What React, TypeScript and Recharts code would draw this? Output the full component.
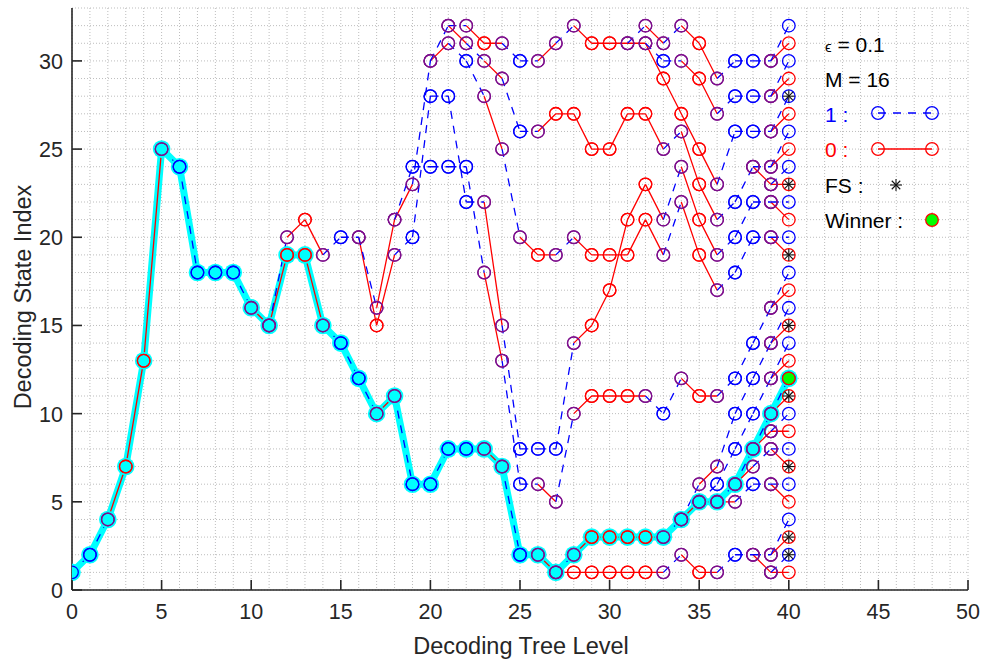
import React from 'react';
import { ComposedChart, Line, XAxis, YAxis, CartesianGrid, Legend } from 'recharts';

// surviving path of the decoder, state per tree level 0..40
const winnerPath = [1, 2, 4, 7, 13, 25, 24, 18, 18, 18, 16, 15, 19, 19, 15, 14, 12, 10, 11, 6, 6, 8, 8, 8, 7, 2, 2, 1, 2, 3, 3, 3, 3, 3, 4, 5, 5, 6, 8, 10, 12];

// tree edges, [level, state at level, state at level + 1]
const zeroEdges = [
  [2, 4, 7], [3, 7, 13], [4, 13, 25],
  [10, 16, 15], [11, 15, 19], [12, 19, 19], [12, 20, 21], [13, 19, 15], [13, 21, 19],
  [16, 20, 15], [17, 10, 11], [17, 16, 21], [17, 15, 19], [18, 21, 23],
  [20, 30, 31], [21, 32, 31], [22, 32, 31],
  [23, 31, 31], [23, 30, 29], [23, 28, 25], [23, 22, 15], [23, 18, 13], [23, 8, 7],
  [25, 20, 19],
  [26, 30, 31], [26, 26, 27], [26, 19, 19], [26, 6, 5], [26, 2, 1],
  [27, 27, 27], [27, 1, 1],
  [28, 32, 31], [28, 27, 25], [28, 20, 19], [28, 14, 15], [28, 10, 11], [28, 2, 3], [28, 1, 1],
  [29, 31, 31], [29, 25, 25], [29, 19, 19], [29, 15, 17], [29, 11, 11], [29, 3, 3], [29, 1, 1],
  [30, 31, 31], [30, 25, 27], [30, 19, 19], [30, 17, 21], [30, 11, 11], [30, 3, 3], [30, 1, 1],
  [31, 31, 31], [31, 27, 27], [31, 21, 23], [31, 19, 21], [31, 11, 11], [31, 3, 3], [31, 1, 1],
  [32, 32, 31], [32, 31, 29], [32, 27, 25], [32, 23, 21], [32, 21, 19], [32, 3, 3], [32, 1, 1],
  [33, 29, 27],
  [34, 32, 31], [34, 30, 29], [34, 27, 25], [34, 26, 23], [34, 24, 21], [34, 22, 19], [34, 12, 11], [34, 4, 5], [34, 2, 1],
  [35, 31, 29], [35, 29, 27], [35, 25, 23], [35, 23, 21], [35, 21, 19], [35, 19, 17], [35, 11, 11], [35, 6, 7], [35, 5, 5], [35, 1, 1],
  [36, 5, 5],
  [37, 6, 7],
  [38, 24, 23], [38, 8, 9], [38, 2, 1],
  [39, 30, 31], [39, 28, 29], [39, 26, 27], [39, 24, 25], [39, 23, 23], [39, 22, 21], [39, 20, 19], [39, 16, 17],
  [39, 14, 15], [39, 12, 13], [39, 10, 11], [39, 9, 9], [39, 8, 7], [39, 6, 5], [39, 2, 3], [39, 1, 1],
];

const oneEdges = [
  [0, 1, 2], [1, 2, 4], [5, 25, 24], [6, 24, 18], [7, 18, 18], [8, 18, 18], [9, 18, 16],
  [11, 15, 20], [14, 15, 14], [14, 19, 20], [15, 14, 12], [15, 20, 20], [16, 12, 10], [16, 20, 16],
  [18, 11, 6], [18, 21, 24], [18, 19, 20],
  [19, 24, 24], [19, 23, 30], [19, 20, 28], [19, 6, 6],
  [20, 30, 32], [20, 28, 28], [20, 24, 24], [20, 6, 8],
  [21, 32, 32], [21, 31, 30], [21, 28, 22], [21, 24, 24], [21, 8, 8],
  [22, 31, 30], [22, 30, 28], [22, 24, 18], [22, 22, 22], [22, 8, 8],
  [24, 31, 30], [24, 29, 26], [24, 25, 20], [24, 15, 8], [24, 13, 6], [24, 7, 2],
  [25, 30, 30], [25, 26, 26], [25, 8, 8], [25, 6, 6], [25, 2, 2],
  [26, 8, 8],
  [27, 31, 32], [27, 19, 20], [27, 8, 14], [27, 5, 10], [27, 1, 2],
  [31, 31, 32],
  [32, 31, 30], [32, 11, 10],
  [33, 31, 32], [33, 30, 30], [33, 25, 26], [33, 21, 24], [33, 19, 22], [33, 10, 12], [33, 3, 4], [33, 1, 2],
  [34, 4, 6],
  [35, 5, 6],
  [36, 29, 30], [36, 27, 28], [36, 23, 26], [36, 21, 22], [36, 19, 20], [36, 17, 18], [36, 11, 12], [36, 7, 10],
  [36, 6, 8], [36, 5, 6], [36, 1, 2],
  [37, 30, 30], [37, 28, 28], [37, 26, 26], [37, 22, 24], [37, 20, 22], [37, 18, 20], [37, 12, 14], [37, 10, 12],
  [37, 8, 10], [37, 6, 8], [37, 5, 6], [37, 2, 2],
  [38, 30, 30], [38, 28, 28], [38, 26, 26], [38, 24, 24], [38, 22, 22], [38, 20, 20], [38, 14, 16], [38, 12, 14],
  [38, 10, 12], [38, 8, 10], [38, 7, 8], [38, 6, 6], [38, 2, 2],
  [39, 30, 32], [39, 28, 30], [39, 26, 28], [39, 24, 26], [39, 23, 24], [39, 22, 22], [39, 20, 20], [39, 16, 18],
  [39, 14, 16], [39, 12, 14], [39, 10, 12], [39, 9, 10], [39, 8, 8], [39, 6, 6], [39, 2, 4], [39, 1, 2],
];

// final states (asterisks) at the last level
const fsLevel = 40;
const fsStates = [28, 23, 19, 15, 11, 7, 3, 2];

const labelledLevels = [0, 5, 10, 15, 20, 25, 30, 35, 40, 45, 50];
const labelledStates = [0, 5, 10, 15, 20, 25, 30];
const gridLevels = Array.from({ length: 51 }, (_, i) => i);
const gridStates = Array.from({ length: 34 }, (_, i) => i);

const FONT = '"Liberation Sans", Arial, Helvetica, sans-serif';
const AXIS = '#262626';
const RED = '#ff0000';
const BLUE = '#0000ff';
const MIX = '#7d0e8c';
const CYAN = '#00ffff';
const PLOT_LEFT = 72;
const PLOT_BOTTOM = 590;

const nodeKey = (l: number, s: number) => `${l}-${s}`;
const redNodes = new Set(zeroEdges.flatMap(([l, a, b]) => [nodeKey(l, a), nodeKey(l + 1, b)]));
const blueNodes = new Set(oneEdges.flatMap(([l, a, b]) => [nodeKey(l, a), nodeKey(l + 1, b)]));

// one polyline per bit value, broken by null points between edges
const toSegments = (edges: number[][]) =>
  edges.flatMap(([l, a, b]) => [{ x: l, y: a }, { x: l + 1, y: b }, { x: l + 1, y: null }]);

const zeroData = toSegments(zeroEdges);
const oneData = toSegments(oneEdges);
const winnerData = winnerPath.map((s, l) => ({ x: l, y: s }));
const fsData = fsStates.map((s) => ({ x: fsLevel, y: s }));
const winnerEndData = [{ x: winnerPath.length - 1, y: winnerPath[winnerPath.length - 1] }];

const ringDot = (color: string) => (props: any) => {
  const { cx, cy, payload, index } = props;
  if (!payload || payload.y == null || cx == null || cy == null || isNaN(cy)) return <g key={`n${index}`} />;
  const k = nodeKey(payload.x, payload.y);
  const c = redNodes.has(k) && blueNodes.has(k) ? MIX : color;
  return <circle key={`d${index}`} cx={cx} cy={cy} r={6.3} fill="none" stroke={c} strokeWidth={1.3} />;
};

const haloDot = (props: any) => {
  const { cx, cy, index } = props;
  if (cx == null || cy == null) return <g key={`h${index}`} />;
  return <circle key={`h${index}`} cx={cx} cy={cy} r={8.8} fill={CYAN} stroke="none" />;
};

const Asterisk = ({ cx, cy, r = 6 }: any) => {
  const d = r * 0.707;
  return (
    <g stroke="#111" strokeWidth={1.1}>
      <line x1={cx - r} y1={cy} x2={cx + r} y2={cy} />
      <line x1={cx} y1={cy - r} x2={cx} y2={cy + r} />
      <line x1={cx - d} y1={cy - d} x2={cx + d} y2={cy + d} />
      <line x1={cx - d} y1={cy + d} x2={cx + d} y2={cy - d} />
    </g>
  );
};

const asteriskDot = (props: any) => {
  const { cx, cy, index } = props;
  if (cx == null || cy == null) return <g key={`a${index}`} />;
  return <Asterisk key={`a${index}`} cx={cx} cy={cy} />;
};

const WinnerDot = ({ cx, cy }: any) => <circle cx={cx} cy={cy} r={6.3} fill="#00ff00" stroke={RED} strokeWidth={1.3} />;

const winnerDot = (props: any) => {
  const { cx, cy, index } = props;
  if (cx == null || cy == null) return <g key={`w${index}`} />;
  return <WinnerDot key={`w${index}`} cx={cx} cy={cy} />;
};

const XTick = (props: any) => {
  const { x, payload } = props;
  if (!labelledLevels.includes(payload.value)) return <g />;
  return (
    <g>
      <line x1={x} x2={x} y1={PLOT_BOTTOM} y2={PLOT_BOTTOM - 10} stroke={AXIS} strokeWidth={1.6} />
      <text x={x} y={PLOT_BOTTOM + 29} textAnchor="middle" fontSize={21.5} fill={AXIS} fontFamily={FONT}>
        {payload.value}
      </text>
    </g>
  );
};

const YTick = (props: any) => {
  const { y, payload } = props;
  if (!labelledStates.includes(payload.value)) return <g />;
  return (
    <g>
      <line x1={PLOT_LEFT} x2={PLOT_LEFT + 10} y1={y} y2={y} stroke={AXIS} strokeWidth={1.6} />
      <text x={PLOT_LEFT - 9} y={y + 8} textAnchor="end" fontSize={21.5} fill={AXIS} fontFamily={FONT}>
        {payload.value}
      </text>
    </g>
  );
};

const XTitle = () => (
  <text x={521} y={654} textAnchor="middle" fontSize={23.5} fill={AXIS} fontFamily={FONT}>
    Decoding Tree Level
  </text>
);

const YTitle = () => (
  <text transform="rotate(-90)" x={-297} y={31} textAnchor="middle" fontSize={23.5} fill={AXIS} fontFamily={FONT}>
    Decoding State Index
  </text>
);

const LegendBox = () => (
  <svg width={160} height={215} style={{ display: 'block', overflow: 'visible' }} fontFamily={FONT}>
    <text x={10} y={27} fill="#000">
      <tspan fontSize={15}>ϵ</tspan>
      <tspan fontSize={21}> = 0.1</tspan>
    </text>
    <text x={10} y={62} fontSize={21} fill="#000">M = 16</text>
    <text x={10} y={97} fontSize={21} fill={BLUE}>1 :</text>
    <line x1={63} y1={88} x2={117} y2={88} stroke={BLUE} strokeWidth={1.3} strokeDasharray="8 7" />
    <circle cx={63} cy={88} r={6.3} fill="none" stroke={BLUE} strokeWidth={1.3} />
    <circle cx={117} cy={88} r={6.3} fill="none" stroke={BLUE} strokeWidth={1.3} />
    <text x={10} y={132} fontSize={21} fill={RED}>0 :</text>
    <line x1={63} y1={124} x2={117} y2={124} stroke={RED} strokeWidth={1.3} />
    <circle cx={63} cy={124} r={6.3} fill="none" stroke={RED} strokeWidth={1.3} />
    <circle cx={117} cy={124} r={6.3} fill="none" stroke={RED} strokeWidth={1.3} />
    <text x={10} y={168} fontSize={21} fill="#000">FS :</text>
    <Asterisk cx={81} cy={160} />
    <text x={10} y={203} fontSize={21} fill="#000">Winner :</text>
    <WinnerDot cx={117} cy={195} />
  </svg>
);

export default function App() {
  return (
    <div style={{ position: 'absolute', left: 0, top: 0, background: '#fff' }}>
      <ComposedChart width={986} height={664} margin={{ top: 8, right: 18, left: 12, bottom: 4 }}>
        <CartesianGrid stroke="#bdbdbd" strokeDasharray="1 2" />
        <XAxis
          type="number"
          dataKey="x"
          domain={[0, 50]}
          ticks={gridLevels}
          interval={0}
          allowDataOverflow
          height={70}
          tick={<XTick />}
          tickLine={false}
          axisLine={{ stroke: AXIS, strokeWidth: 1.6 }}
          label={<XTitle />}
        />
        <YAxis
          type="number"
          dataKey="y"
          domain={[0, 33]}
          ticks={gridStates}
          interval={0}
          allowDataOverflow
          width={60}
          tick={<YTick />}
          tickLine={false}
          axisLine={{ stroke: AXIS, strokeWidth: 1.6 }}
          label={<YTitle />}
        />
        <Line
          data={winnerData}
          dataKey="y"
          type="linear"
          stroke={CYAN}
          strokeWidth={7}
          dot={haloDot}
          activeDot={false}
          legendType="none"
          isAnimationActive={false}
        />
        <Line
          data={zeroData}
          dataKey="y"
          type="linear"
          stroke={RED}
          strokeWidth={1.3}
          connectNulls={false}
          dot={ringDot(RED)}
          activeDot={false}
          legendType="none"
          isAnimationActive={false}
        />
        <Line
          data={oneData}
          dataKey="y"
          type="linear"
          stroke={BLUE}
          strokeWidth={1.3}
          strokeDasharray="8 7"
          connectNulls={false}
          dot={ringDot(BLUE)}
          activeDot={false}
          legendType="none"
          isAnimationActive={false}
        />
        <Line
          data={fsData}
          dataKey="y"
          stroke="none"
          dot={asteriskDot}
          activeDot={false}
          legendType="none"
          isAnimationActive={false}
        />
        <Line
          data={winnerEndData}
          dataKey="y"
          stroke="none"
          dot={winnerDot}
          activeDot={false}
          legendType="none"
          isAnimationActive={false}
        />
        <Legend
          layout="horizontal"
          verticalAlign="middle"
          align="center"
          content={<LegendBox />}
          wrapperStyle={{ left: 815, top: 25, width: 160, height: 215 }}
        />
      </ComposedChart>
    </div>
  );
}
